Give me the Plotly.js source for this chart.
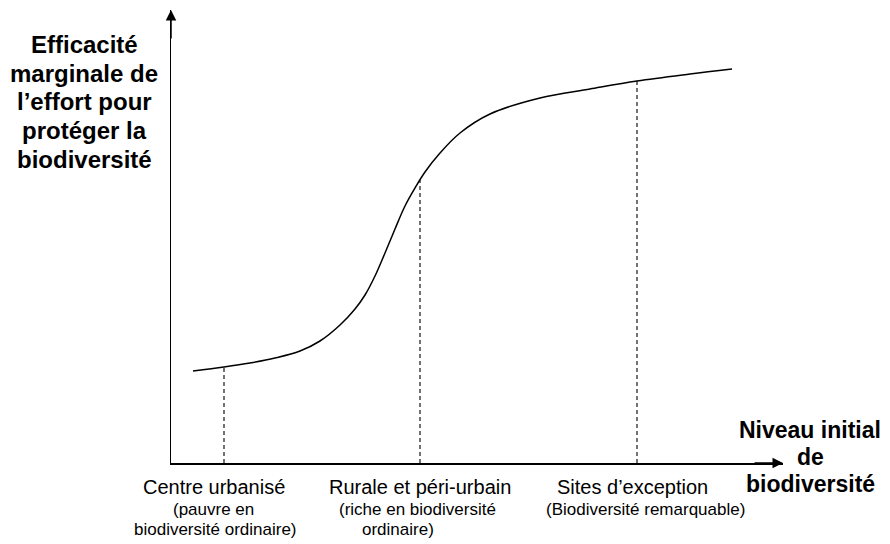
<!DOCTYPE html>
<html>
<head>
<meta charset="utf-8">
<script src="https://cdn.plot.ly/plotly-3.0.1.min.js"></script>
<style>html,body{margin:0;padding:0;background:#fff;}#chart{width:890px;height:544px;}</style>
</head>
<body>
<div id="chart"></div>
<script>
// ---- data (arbitrary units) ----
const curveX = [22, 53, 79, 104, 129, 149, 169, 184, 194, 204, 214, 224, 234, 244, 254, 269, 289, 319, 369, 419, 466, 519, 561];
const curveY = [92, 96, 100, 105, 112, 122, 138, 154, 168, 187, 210, 234, 257, 275, 291, 310, 330, 349, 365, 374, 382, 389, 394];
const siteX = [53, 249, 466];
const siteY = [96, 283, 382];
const siteNames = ['Centre urbanisé', 'Rurale et péri-urbain', 'Sites d’exception'];
const siteNotes = [['(pauvre en', 'biodiversité ordinaire)'], ['(riche en biodiversité', 'ordinaire)'], ['(Biodiversité remarquable)']];
const yTitleLines = ['Efficacité', 'marginale de', 'l’effort pour', 'protéger la', 'biodiversité'];
const xTitleLines = ['Niveau initial', 'de', 'biodiversité'];

// ---- layout geometry ----
const M = {l: 171, r: 107, t: 10, b: 81};
const PW = 890 - M.l - M.r, PH = 544 - M.t - M.b;
const XR = [0, 612], YR = [0, 453];
function px(x) { return (x - M.l) / PW; }
function py(y) { return (544 - M.b - y) / PH; }
const FONT = 'Liberation Sans, Arial, sans-serif';

const traces = [];
traces.push({x: curveX, y: curveY, mode: 'lines', line: {color: '#000', width: 1.5, shape: 'spline', smoothing: 1}, hoverinfo: 'skip', cliponaxis: false});
const dx = [], dy = [];
siteX.forEach((sx, i) => { dx.push(sx, sx, null); dy.push(0, siteY[i], null); });
traces.push({x: dx, y: dy, mode: 'lines', line: {color: '#000', width: 1.1, dash: '4px,3px'}, hoverinfo: 'skip'});

const ann = [];
// axis arrows
ann.push({x: XR[1], y: 0, ax: XR[1] - 30, ay: 0, xref: 'x', yref: 'y', axref: 'x', ayref: 'y', text: '', showarrow: true, arrowhead: 2, arrowsize: 1.4, arrowwidth: 1.5, arrowcolor: '#000', standoff: 0});
ann.push({x: 0, y: YR[1], ax: 0, ay: YR[1] - 30, xref: 'x', yref: 'y', axref: 'x', ayref: 'y', text: '', showarrow: true, arrowhead: 2, arrowsize: 1.4, arrowwidth: 1.5, arrowcolor: '#000', standoff: 0});

function txt(t, x, y, size, bold) {
  ann.push({text: t, x: px(x), y: py(y), xref: 'paper', yref: 'paper', xanchor: 'center', yanchor: 'middle', showarrow: false, borderpad: 0,
    font: {family: FONT, size: size, color: '#000', weight: bold ? 'bold' : 'normal'}});
}
const yTitlePos = {x: 84, ys: [44, 73, 101, 130, 159]};
yTitleLines.forEach((t, i) => txt(t, yTitlePos.x, yTitlePos.ys[i], 24, true));
const xTitlePos = {x: 810, ys: [430, 457, 484]};
xTitleLines.forEach((t, i) => txt(t, xTitlePos.x, xTitlePos.ys[i], 23, true));

const nameX = [214, 420, 632];
const noteX = [[213, 215], [417, 398], [645]];
const noteY = [509.5, 529];
siteNames.forEach((t, i) => txt(t, nameX[i], 487, 20, false));
siteNotes.forEach((lines, i) => lines.forEach((t, j) => txt(t, noteX[i][j], noteY[j], 17, false)));

const axisStyle = {showline: true, linecolor: '#000', linewidth: 1.5, showgrid: false, zeroline: false, showticklabels: false, ticks: '', fixedrange: true};
const layout = {
  width: 890, height: 544, margin: M, showlegend: false,
  paper_bgcolor: '#fff', plot_bgcolor: '#fff',
  xaxis: Object.assign({range: XR}, axisStyle),
  yaxis: Object.assign({range: YR}, axisStyle),
  annotations: ann
};
Plotly.newPlot('chart', traces, layout, {displayModeBar: false, staticPlot: true});
</script>
</body>
</html>
